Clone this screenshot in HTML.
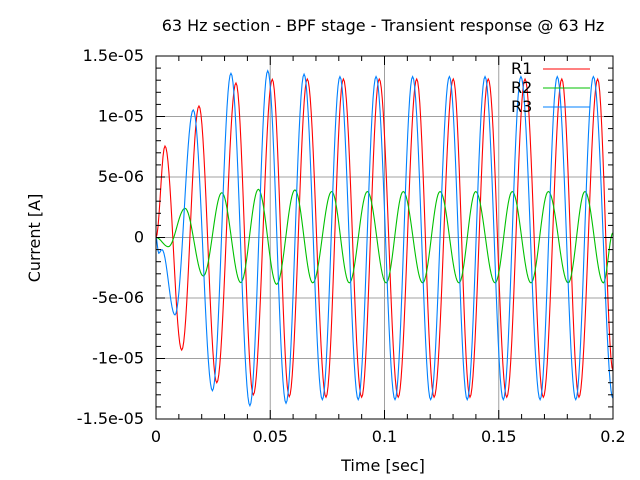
<!DOCTYPE html>
<html><head><meta charset="utf-8"><style>
html,body{margin:0;padding:0;background:#fff;}
svg{display:block;font-family:"DejaVu Sans","Liberation Sans",sans-serif;}
</style></head><body>
<svg id="chart" width="640" height="480" viewBox="0 0 640 480">
<rect width="640" height="480" fill="#fff"/>
<text x="383" y="31" text-anchor="middle" font-size="16">63 Hz section - BPF stage - Transient response @ 63 Hz</text>
<text x="383" y="471" text-anchor="middle" font-size="16">Time [sec]</text>
<text transform="translate(40,238) rotate(-90)" text-anchor="middle" font-size="16">Current [A]</text>
<g id="grid"></g>
<g id="series"></g>
<g id="axes"></g>
<g id="legend"></g>
</svg>
<script>
// values in units of 1e-6 A, times in ms (extrema)
const r1T = [0,3.94,11.25,18.8,26.6,35.0,42.6,50.9,58.3,66.2,74.4,82.0,90.0,97.7,106.0,114.1,121.7,130.1,137.4,145.4,153.5,161.5,169.5,177.6,185.1,193.3,200];
const r1V = [0,7.56,-9.3,10.87,-12.0,12.77,-13.0,13.07,-13.15,13.1,-13.2,13.1,-13.2,13.1,-13.2,13.1,-13.2,13.1,-13.2,13.1,-13.2,13.1,-13.2,13.1,-13.2,13.1,-11.0];
const r2T = [0,5.4,12.7,20.7,28.8,37.1,44.8,52.8,60.8,68.6,76.9,84.6,92.5,100.7,108.2,116.7,124.3,132.6,139.9,148.4,155.9,164.1,171.7,180.4,187.7,195.8,200];
const r2V = [0,-0.76,2.41,-3.18,3.7,-3.73,3.98,-3.87,3.93,-3.75,3.8,-3.75,3.8,-3.75,3.8,-3.75,3.8,-3.75,3.8,-3.75,3.8,-3.75,3.8,-3.75,3.8,-3.75,0.4];
const r3T = [0,1.2,2.6,8.3,16.3,24.7,32.8,41.1,48.9,56.9,64.8,72.8,80.5,88.5,96.3,104.6,112.3,120.2,128.4,136.2,144.0,152.0,159.7,168.1,175.6,183.7,191.4,200];
const r3V = [0,-1.3,-1.0,-6.4,10.54,-12.66,13.57,-13.9,13.78,-13.7,13.5,-13.4,13.3,-13.4,13.3,-13.4,13.3,-13.4,13.3,-13.4,13.3,-13.4,13.3,-13.4,13.3,-13.4,13.3,-13.3];
const xTicks = [0,0.05,0.1,0.15,0.2];
const xTickLabels = ["0","0.05","0.1","0.15","0.2"];
const yTicks = [15,10,5,0,-5,-10,-15];
const yTickLabels = ["1.5e-05","1e-05","5e-06","0","-5e-06","-1e-05","-1.5e-05"];
const legendNames = ["R1","R2","R3"];
const colors = ["#ff0000","#00c000","#0080ff"];

const L=156,R=613,T=56,B=419;
const xs = t => L + (t/0.2)*(R-L);          // t in seconds
const ys = v => B - (v+15)/30*(B-T);        // v in 1e-6
const NS="http://www.w3.org/2000/svg";
function mk(tag, attrs, parent){const e=document.createElementNS(NS,tag);for(const k in attrs)e.setAttribute(k,attrs[k]);parent.appendChild(e);return e;}

const grid=document.getElementById('grid');
xTicks.forEach((t,i)=>{ if(i>0&&i<xTicks.length-1){
  const l=mk('line',{x1:xs(t),x2:xs(t),y1:T,y2:B,stroke:'#a0a0a0','stroke-width':1},grid);
  
  }});
yTicks.forEach((v,i)=>{ if(i>0&&i<yTicks.length-1){
  const l=mk('line',{x1:L,x2:R,y1:ys(v),y2:ys(v),stroke:'#a0a0a0','stroke-width':1},grid);
  
  }});

const series=document.getElementById('series');
[[r1T,r1V],[r2T,r2V],[r3T,r3V]].forEach((s,si)=>{
  const [T_,V_]=s; let d='';
  for(let i=0;i<T_.length-1;i++){
    const t0=T_[i],t1=T_[i+1],v0=V_[i],v1=V_[i+1];
    const n=Math.max(4,Math.round((xs(t1/1000)-xs(t0/1000))));
    for(let k=(i==0?0:1);k<=n;k++){
      const f=k/n, w=(1-Math.cos(Math.PI*f))/2;
      const x=xs((t0+(t1-t0)*f)/1000), y=ys(v0+(v1-v0)*w);
      d+=(d?'L':'M')+x.toFixed(2)+' '+y.toFixed(2);
    }
  }
  const p=mk('path',{d:d,fill:'none',stroke:colors[si],'stroke-width':1.1},series);
  
  
});

const axes=document.getElementById('axes');
const fr=mk('rect',{x:L,y:T,width:R-L,height:B-T,fill:'none',stroke:'#000','stroke-width':1},axes);


for(let k=0;k<=20;k++){
  const x=xs(k*0.01), len=(k%5==0)?9:5;
  mk('line',{x1:x,x2:x,y1:B,y2:B-len,stroke:'#000'},axes);
  mk('line',{x1:x,x2:x,y1:T,y2:T+len,stroke:'#000'},axes);
}
for(let k=-15;k<=15;k++){
  const y=ys(k), len=(k%5==0)?9:5;
  mk('line',{x1:L,x2:L+len,y1:y,y2:y,stroke:'#000'},axes);
  mk('line',{x1:R,x2:R-len,y1:y,y2:y,stroke:'#000'},axes);
}
xTicks.forEach((t,i)=>{
  const tx=mk('text',{x:xs(t),y:442,'text-anchor':'middle','font-size':16},axes);
  tx.textContent=xTickLabels[i];
  
  
});
yTicks.forEach((v,i)=>{
  const tx=mk('text',{x:144,y:ys(v)+5,'text-anchor':'end','font-size':16},axes);
  tx.textContent=yTickLabels[i];
  
  
});

const legend=document.getElementById('legend');
legendNames.forEach((n,i)=>{
  const y=69+i*19;
  const g=mk('g',{},legend);
  
  
  const tx=mk('text',{x:511,y:y+5,'font-size':16},g);
  tx.textContent=n;
  mk('line',{x1:543,x2:590,y1:y,y2:y,stroke:colors[i],'stroke-width':1},g);
});
</script>
</body></html>
